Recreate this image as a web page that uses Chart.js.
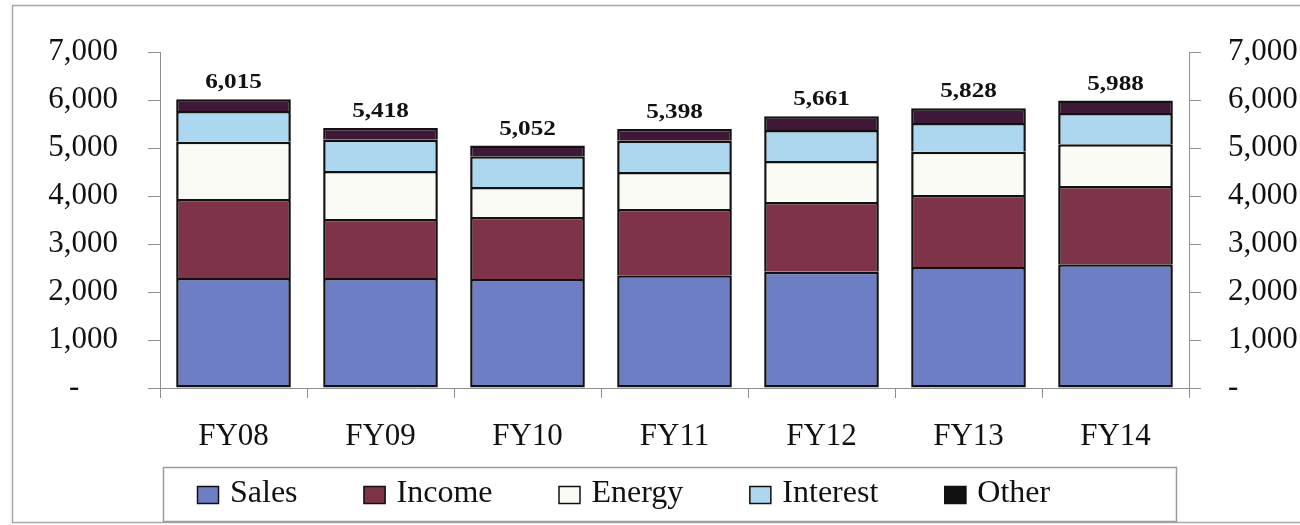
<!DOCTYPE html>
<html lang="en">
<head>
  <meta charset="UTF-8">
  <title>Revenue by source, FY08 - FY14</title>
  <script src="https://cdn.jsdelivr.net/npm/chart.js@4.4.0/dist/chart.umd.min.js"></script>
  <style>
    html, body { margin: 0; padding: 0; background: #fff; overflow: hidden; }
    #wrap { width: 1300px; height: 525px; position: relative; }
  </style>
</head>
<body>
  <div id="wrap"><canvas id="revChart"></canvas></div>
  <script>
    const years    = ['FY08', 'FY09', 'FY10', 'FY11', 'FY12', 'FY13', 'FY14'];
    const sales    = [2290, 2290, 2270, 2350, 2420, 2520, 2580];
    const income   = [1650, 1230, 1290, 1380, 1455, 1500, 1630];
    const energy   = [1190, 1000,  630,  770,  855,  900,  870];
    const interest = [ 640,  650,  640,  650,  645,  600,  650];
    const other    = [ 245,  248,  222,  248,  286,  308,  258];
    const yTicks   = [0, 1000, 2000, 3000, 4000, 5000, 6000, 7000];

    // total on top of each stack
    const totals = years.map((_, i) => sales[i] + income[i] + energy[i] + interest[i] + other[i]);

    const serif = '"Liberation Serif", "Times New Roman", serif';
    const axisGrey = '#8f8f8f';

    function tickText(v, pad) {
      if (v === 0) return pad ? '-     ' : '-';
      return v.toLocaleString('en-US');
    }

    // light grey frame round the whole chart
    const framePlugin = {
      id: 'frame',
      beforeDraw(chart) {
        const ctx = chart.ctx;
        ctx.save();
        ctx.fillStyle = '#fff';
        ctx.fillRect(0, 0, chart.width, chart.height);
        ctx.strokeStyle = '#a8a8a8';
        ctx.lineWidth = 1.5;
        ctx.strokeRect(12.5, 5.5, chart.width + 10, 517);
        ctx.restore();
      }
    };

    // bold totals above the bars
    const totalsPlugin = {
      id: 'totals',
      afterDatasetsDraw(chart) {
        const ctx = chart.ctx;
        const meta = chart.getDatasetMeta(chart.data.datasets.length - 1);
        const y = chart.scales.y;
        ctx.save();
        ctx.fillStyle = '#111';
        ctx.font = 'bold 21px ' + serif;
        ctx.textAlign = 'center';
        ctx.textBaseline = 'alphabetic';
        totals.forEach((t, i) => {
          const bar = meta.data[i];
          ctx.save();
          ctx.translate(bar.x, y.getPixelForValue(t) - 11);
          ctx.scale(1.2, 1);
          ctx.fillText(t.toLocaleString('en-US'), 0, 0);
          ctx.restore();
        });
        ctx.restore();
      }
    };

    // boxed legend underneath the axis
    const legendPlugin = {
      id: 'boxLegend',
      afterDraw(chart) {
        const ctx = chart.ctx;
        ctx.save();
        ctx.strokeStyle = '#9a9a9a';
        ctx.lineWidth = 1.5;
        ctx.strokeRect(163.5, 467.5, 1013, 54);
        ctx.font = '32px ' + serif;
        ctx.textBaseline = 'middle';
        ctx.textAlign = 'left';
        let x = 197;
        chart.data.datasets.forEach(ds => {
          ctx.fillStyle = ds.legendColor || ds.backgroundColor;
          ctx.fillRect(x, 486, 22, 18);
          ctx.strokeStyle = '#111';
          ctx.lineWidth = 1.5;
          ctx.strokeRect(x + 0.5, 486.5, 21, 17);
          ctx.fillStyle = '#111';
          ctx.fillText(ds.label, x + 33, 494);
          x += 33 + ctx.measureText(ds.label).width + 66;
        });
        ctx.restore();
      }
    };

    function series(label, data, color, extra) {
      return Object.assign({
        label: label,
        data: data,
        backgroundColor: color,
        borderColor: '#111',
        borderWidth: 2.5,
        borderSkipped: 'start',
        categoryPercentage: 1,
        barPercentage: 0.78
      }, extra || {});
    }

    const tickFont = { family: serif, size: 31 };

    new Chart(document.getElementById('revChart'), {
      type: 'bar',
      data: {
        labels: years,
        datasets: [
          series('Sales', sales, '#6e7ec5', { borderSkipped: false }),
          series('Income', income, '#7f3349'),
          series('Energy', energy, '#fbfbf6'),
          series('Interest', interest, '#acd7ef'),
          series('Other', other, '#3f1838', { legendColor: '#111' })
        ]
      },
      options: {
        responsive: true,
        maintainAspectRatio: false,
        animation: false,
        layout: { padding: { top: 52, bottom: 67, left: 0, right: 0 } },
        plugins: {
          legend: { display: false },
          tooltip: { enabled: false }
        },
        scales: {
          x: {
            stacked: true,
            grid: { offset: true, drawOnChartArea: false, tickLength: 10, color: axisGrey },
            border: { color: axisGrey, width: 1 },
            ticks: { padding: 20, color: '#111', font: tickFont },
            afterFit: s => { s.height = 70; }
          },
          y: {
            stacked: true,
            position: 'left',
            min: 0,
            max: 7000,
            afterBuildTicks: s => { s.ticks = yTicks.map(v => ({ value: v })); },
            ticks: { padding: 30, color: '#111', font: tickFont, callback: v => tickText(v, true) },
            grid: { drawOnChartArea: false, tickLength: 12, color: axisGrey },
            border: { color: axisGrey, width: 1 },
            afterFit: s => { s.width = 160; }
          },
          y2: {
            position: 'right',
            min: 0,
            max: 7000,
            afterBuildTicks: s => { s.ticks = yTicks.map(v => ({ value: v })); },
            ticks: { padding: 27, color: '#111', font: tickFont, callback: v => tickText(v, false) },
            grid: { drawOnChartArea: false, tickLength: 12, color: axisGrey },
            border: { color: axisGrey, width: 1 },
            afterFit: s => { s.width = 111; }
          }
        }
      },
      plugins: [framePlugin, totalsPlugin, legendPlugin]
    });
  </script>
</body>
</html>
